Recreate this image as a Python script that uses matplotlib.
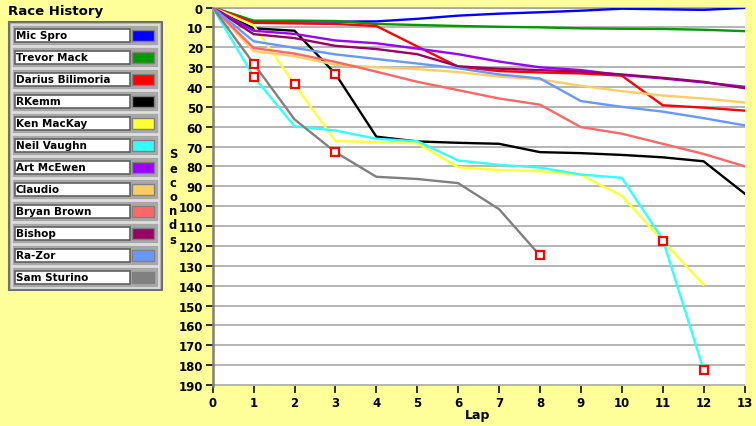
import matplotlib.pyplot as plt
from matplotlib.patches import Rectangle

# Race history: seconds behind the leader after each lap
laps = list(range(14))

names = ["Mic Spro", "Trevor Mack", "Darius Bilimoria", "RKemm", "Ken MacKay",
         "Neil Vaughn", "Art McEwen", "Claudio", "Bryan Brown", "Bishop",
         "Ra-Zor", "Sam Sturino"]
colors = ["#0000FF", "#009900", "#FF0000", "#000000", "#FFFF33", "#33FFFF",
          "#9900FF", "#FFCC66", "#FF6666", "#990066", "#6699FF", "#808080"]

mic_spro = [0, 7.0, 7.0, 7.1, 7.0, 5.7, 4.1, 3.1, 2.4, 1.6, 0.6, 0.9, 1.2, 0.2]
trevor_mack = [0, 6.6, 6.6, 6.8, 8.3, 8.8, 9.3, 9.7, 10.0, 10.5, 10.7, 10.8, 11.2, 11.9]
darius_bilimoria = [0, 7.7, 8.0, 8.3, 9.3, 19.6, 29.8, 32.0, 32.7, 33.2, 34.3, 49.2, 50.4, 51.9]
rkemm = [0, 10.5, 11.7, 33.4, 65.0, 67.4, 68.1, 68.6, 72.8, 73.3, 74.2, 75.4, 77.4, 93.6]
ken_mackay = [0, 9.0, 38.7, 67.2, 67.8, 68.3, 80.4, 81.8, 82.4, 84.3, 94.8, 117.4, 139.5]
neil_vaughn = [0, 34.8, 59.8, 61.9, 66.1, 67.3, 77.0, 79.2, 80.6, 84.1, 85.7, 116.7, 182.3]
art_mcewen = [0, 11.7, 13.3, 16.6, 18.0, 20.7, 23.5, 27.2, 30.1, 31.5, 34.0, 35.7, 37.7, 39.9]
claudio = [0, 22.0, 24.5, 28.8, 30.1, 31.0, 32.5, 34.8, 36.2, 39.4, 42.1, 44.3, 45.8, 47.8]
bryan_brown = [0, 20.4, 23.2, 27.4, 32.3, 37.4, 41.6, 45.8, 48.9, 60.2, 63.5, 68.6, 73.7, 79.9]
bishop = [0, 13.4, 15.4, 19.3, 20.9, 23.5, 29.6, 30.8, 31.5, 32.3, 33.7, 35.4, 37.4, 40.6]
ra_zor = [0, 17.0, 20.3, 23.6, 25.9, 28.2, 30.6, 33.7, 35.7, 47.1, 50.0, 52.4, 55.7, 59.3]
sam_sturino = [0, 28.2, 56.3, 72.8, 85.2, 86.3, 88.4, 101.5, 124.8]

series = [mic_spro, trevor_mack, darius_bilimoria, rkemm, ken_mackay, neil_vaughn,
          art_mcewen, claudio, bryan_brown, bishop, ra_zor, sam_sturino]

# flagged laps (red squares): series index -> laps
flags = {11: [1, 3, 8], 5: [1, 12], 4: [2, 11], 3: [3]}

bg = "#FFFF99"
fig = plt.figure(figsize=(7.56, 4.27), dpi=100, facecolor=bg)

W, H = 756, 427
ax = fig.add_axes([212.7 / W, (H - 387) / H, 531.8 / W, 378.5 / H])
ax.set_facecolor("white")

for vals, c in zip(series, colors):
    ax.plot(laps[:len(vals)], vals, color=c, lw=1.7, solid_joinstyle="miter", zorder=3)

for i, fl in flags.items():
    ax.plot(fl, [series[i][l] for l in fl], ls="none", marker="s", ms=6,
            mfc="white", mec="#FF0000", mew=1.6, zorder=5)

ax.set_xlim(0, 13)
ax.set_ylim(190.5, 0)
ax.set_xticks(range(14))
ax.set_yticks(range(0, 191, 10))
ax.yaxis.grid(True, color="#A0A0A0", lw=1.1)
ax.set_axisbelow(True)
for s in ["right", "bottom"]:
    ax.spines[s].set_visible(False)
ax.spines["top"].set_color("#A0A0A0")
ax.spines["top"].set_linewidth(1.1)
ax.spines["left"].set_color("#808080")
ax.spines["left"].set_linewidth(1.8)
ax.tick_params(axis="both", length=5, width=1.3, color="#202020", labelsize=8.5, pad=2)
for lab in ax.get_xticklabels() + ax.get_yticklabels():
    lab.set_fontweight("bold")

fig.text(478 / W, 1 - 416 / H, "Lap", ha="center", va="center", fontsize=9, fontweight="bold")
# stacked y label, one letter per line
for i, ch in enumerate("Seconds"):
    fig.text(173 / W, 1 - (155 + 14.2 * i) / H, ch, ha="center", va="center",
             fontsize=8.3, fontweight="bold")

# legend panel drawn in pixel coordinates
lg = fig.add_axes([0, 0, 1, 1], facecolor="none")
lg.set_xlim(0, W)
lg.set_ylim(H, 0)
lg.axis("off")
lg.text(8, 11, "Race History", ha="left", va="center", fontsize=9.5, fontweight="bold")
lg.add_patch(Rectangle((8.5, 22.5), 153, 268, fc="#B8B8B8", ec="#707070", lw=1.5))
for k, (n, c) in enumerate(zip(names, colors)):
    y0 = 26 + 22 * k
    lg.add_patch(Rectangle((12, y0), 146.5, 20.5, fc="#A8A8A8", ec="#E0E0E0", lw=1.2))
    lg.add_patch(Rectangle((14.5, y0 + 3.5), 115, 13, fc="white", ec="#606060", lw=1.2))
    lg.add_patch(Rectangle((131.5, y0 + 4.5), 22.5, 11.5, fc=c, ec="#808080", lw=1.0))
    lg.text(16, y0 + 10.3, n, ha="left", va="center", fontsize=7.5, fontweight="bold")

fig.savefig("out.png", dpi=100, facecolor=bg)
